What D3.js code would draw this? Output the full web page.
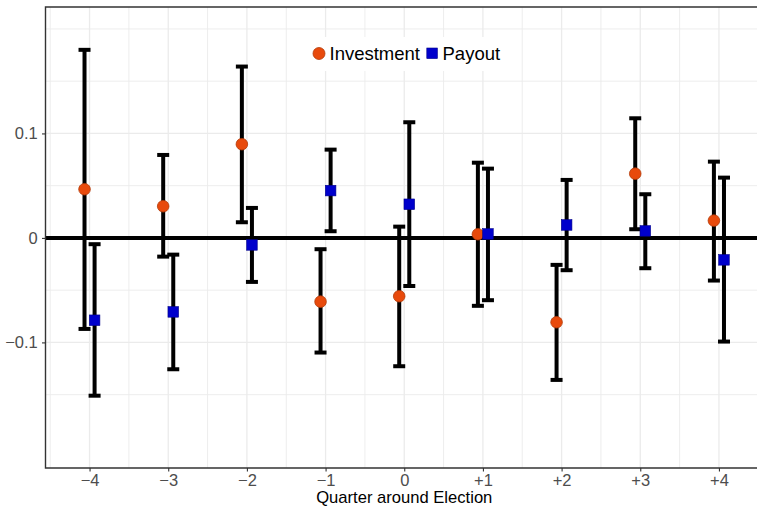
<!DOCTYPE html>
<html>
<head>
<meta charset="utf-8">
<script src="https://cdn.jsdelivr.net/npm/d3@7"></script>
<style>
  html, body { margin: 0; padding: 0; background: #fff; }
  svg { display: block; }
  text { font-family: "Liberation Sans", Arial, Helvetica, sans-serif; }
</style>
</head>
<body>
<svg id="chart" width="757" height="506"></svg>
<script>
// Quarters relative to the election
const quarters = [-4, -3, -2, -1, 0, 1, 2, 3, 4];
const quarterLabels = ["\u22124", "\u22123", "\u22122", "\u22121", "0", "+1", "+2", "+3", "+4"];

// Investment estimates with confidence bounds
const investEst = [0.0466, 0.0303, 0.0897, -0.0610, -0.0558, 0.0035, -0.0807, 0.0615, 0.0166];
const investLo  = [-0.0871, -0.0179, 0.0150, -0.1097, -0.1228, -0.0650, -0.1359, 0.0083, -0.0408];
const investHi  = [0.1800, 0.0794, 0.1640, -0.0108, 0.0108, 0.0720, -0.0258, 0.1145, 0.0730];

// Payout estimates with confidence bounds
const payoutEst = [-0.0788, -0.0708, -0.0067, 0.0453, 0.0322, 0.0038, 0.0124, 0.0067, -0.0210];
const payoutLo  = [-0.1510, -0.1257, -0.0421, 0.0064, -0.0460, -0.0596, -0.0309, -0.0290, -0.0992];
const payoutHi  = [-0.0060, -0.0160, 0.0287, 0.0845, 0.1107, 0.0663, 0.0555, 0.0418, 0.0577];

const yBreaks = [-0.1, 0, 0.1];
const yBreakLabels = ["\u22120.1", "0", "0.1"];
const yMinor = [-0.15, -0.05, 0.05, 0.15, 0.2];

const seriesNames = ["Investment", "Payout"];

const svg = d3.select("#chart");
const panel = { left: 45.5, right: 763, top: 7, bottom: 468 };

const x = d3.scaleLinear().domain([-4.56, 4.56]).range([panel.left, panel.right]);
const y = d3.scaleLinear().domain([-0.2202, 0.2210]).range([panel.bottom, panel.top]);

const dodge = 0.064;
const grid = "#ebebeb";

// minor grid lines
const g = svg.append("g");
yMinor.forEach(v => {
  g.append("line").attr("x1", panel.left).attr("x2", panel.right)
    .attr("y1", y(v)).attr("y2", y(v)).attr("stroke", grid).attr("stroke-width", 0.9);
});
d3.range(-4.5, 5, 1).forEach(v => {
  g.append("line").attr("x1", x(v)).attr("x2", x(v))
    .attr("y1", panel.top).attr("y2", panel.bottom).attr("stroke", grid).attr("stroke-width", 0.9);
});
// major grid lines
yBreaks.forEach(v => {
  g.append("line").attr("x1", panel.left).attr("x2", panel.right)
    .attr("y1", y(v)).attr("y2", y(v)).attr("stroke", grid).attr("stroke-width", 1.3);
});
quarters.forEach(v => {
  g.append("line").attr("x1", x(v)).attr("x2", x(v))
    .attr("y1", panel.top).attr("y2", panel.bottom).attr("stroke", grid).attr("stroke-width", 1.3);
});

// legend box (drawn over the grid)
const legend = svg.append("g");
legend.append("rect").attr("x", 307).attr("y", 37).attr("width", 203).attr("height", 34).attr("fill", "#fff");

// zero reference line
svg.append("line").attr("x1", panel.left).attr("x2", panel.right)
  .attr("y1", y(0)).attr("y2", y(0)).attr("stroke", "#000").attr("stroke-width", 4);

// error bars
function errorBars(lo, hi, offset) {
  const eg = svg.append("g").attr("stroke", "#000").attr("stroke-width", 4);
  quarters.forEach((q, i) => {
    const cx = x(q + offset);
    eg.append("line").attr("x1", cx).attr("x2", cx).attr("y1", y(lo[i])).attr("y2", y(hi[i]));
    eg.append("line").attr("x1", cx - 6).attr("x2", cx + 6).attr("y1", y(lo[i])).attr("y2", y(lo[i]));
    eg.append("line").attr("x1", cx - 6).attr("x2", cx + 6).attr("y1", y(hi[i])).attr("y2", y(hi[i]));
  });
}
errorBars(investLo, investHi, -dodge);
errorBars(payoutLo, payoutHi, dodge);

// points
svg.append("g").selectAll("circle").data(investEst).join("circle")
  .attr("cx", (d, i) => x(quarters[i] - dodge)).attr("cy", d => y(d)).attr("r", 5.8)
  .attr("fill", "#e84a0c").attr("stroke", "#b33a08").attr("stroke-width", 0.8);
svg.append("g").selectAll("rect").data(payoutEst).join("rect")
  .attr("x", (d, i) => x(quarters[i] + dodge) - 5.3).attr("y", d => y(d) - 5.3)
  .attr("width", 10.6).attr("height", 10.6)
  .attr("fill", "#0000cc").attr("stroke", "#00008a").attr("stroke-width", 0.6);

// panel border: left, bottom, top
svg.append("path")
  .attr("d", `M${panel.right},${panel.top}H${panel.left}V${panel.bottom}H${panel.right}`)
  .attr("fill", "none").attr("stroke", "#333").attr("stroke-width", 1.4);

// axes
const xAxis = d3.axisBottom(x).tickValues(quarters)
  .tickFormat((d, i) => quarterLabels[i]).tickSize(3.5).tickPadding(2.5);
const yAxis = d3.axisLeft(y).tickValues(yBreaks)
  .tickFormat((d, i) => yBreakLabels[i]).tickSize(3.5).tickPadding(4.3);

const xa = svg.append("g").attr("transform", `translate(0,${panel.bottom})`).call(xAxis);
const ya = svg.append("g").attr("transform", `translate(${panel.left},0)`).call(yAxis);
[xa, ya].forEach(a => {
  a.select(".domain").remove();
  a.selectAll(".tick line").attr("stroke", "#333").attr("stroke-width", 1.1);
  a.selectAll(".tick text").attr("fill", "#4d4d4d")
    .style("font-family", "'Liberation Sans', Arial, sans-serif").style("font-size", "16.5px");
});

svg.append("text").attr("x", x(0)).attr("y", 503).attr("text-anchor", "middle")
  .attr("fill", "#000").style("font-size", "16.6px").text("Quarter around Election");

// legend keys
legend.append("circle").attr("cx", 319).attr("cy", 53.5).attr("r", 6)
  .attr("fill", "#e84a0c").attr("stroke", "#b33a08").attr("stroke-width", 0.8);
legend.append("text").attr("x", 329.5).attr("y", 60).attr("fill", "#000")
  .style("font-size", "18.5px").text(seriesNames[0]);
legend.append("rect").attr("x", 426.8).attr("y", 48).attr("width", 10.6).attr("height", 10.6)
  .attr("fill", "#0000cc").attr("stroke", "#00008a").attr("stroke-width", 0.6);
legend.append("text").attr("x", 442.5).attr("y", 60).attr("fill", "#000")
  .style("font-size", "18.5px").text(seriesNames[1]);
</script>
</body>
</html>
